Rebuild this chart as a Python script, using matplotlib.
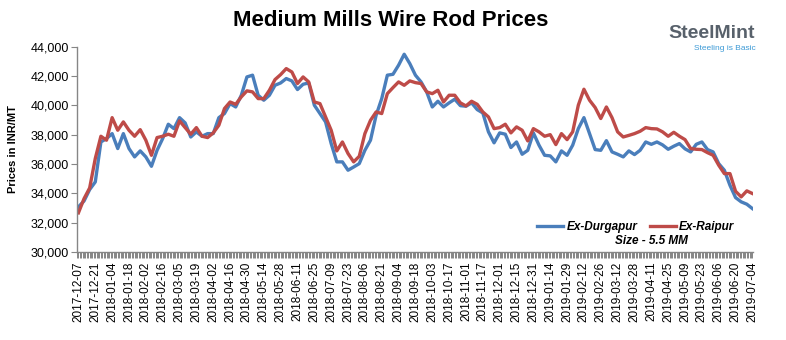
import numpy as np
import matplotlib
matplotlib.use("Agg")
import matplotlib.pyplot as plt
from matplotlib.ticker import FuncFormatter, MultipleLocator
from matplotlib.lines import Line2D

plt.rcParams['font.family'] = ['Liberation Sans', 'DejaVu Sans']

# tick labels (every 3rd point)
date_labels = ["2017-12-07", "2017-12-21", "2018-01-04", "2018-01-18", "2018-02-02",
               "2018-02-16", "2018-03-05", "2018-03-19", "2018-04-02", "2018-04-16",
               "2018-04-30", "2018-05-14", "2018-05-28", "2018-06-11", "2018-06-25",
               "2018-07-09", "2018-07-23", "2018-08-06", "2018-08-21", "2018-09-04",
               "2018-09-18", "2018-10-03", "2018-10-17", "2018-11-01", "2018-11-17",
               "2018-12-01", "2018-12-15", "2018-12-31", "2019-01-14", "2019-01-29",
               "2019-02-12", "2019-02-26", "2019-03-12", "2019-03-28", "2019-04-11",
               "2019-04-25", "2019-05-09", "2019-05-23", "2019-06-06", "2019-06-20",
               "2019-07-04"]

# prices, INR/MT
durgapur = [33080, 33480, 34260, 34780, 37510, 37740, 38080, 37060, 38080, 37060,
            36490, 36900, 36490, 35850, 36940, 37740, 38720, 38420, 39170, 38810,
            37850, 38200, 37900, 38080, 38080, 39170, 39450, 40130, 39900, 40700,
            41950, 42070, 40700, 40360, 40700, 41380, 41540, 41840, 41680, 41090,
            41450, 41540, 40020, 39450, 38880, 37400, 36150, 36150, 35580, 35800,
            36030, 36940, 37630, 39330, 40470, 42070, 42130, 42750, 43500, 42860,
            42070, 41610, 40930, 39900, 40290, 39900, 40180, 40430, 39990, 39950,
            40180, 39720, 39490, 38200, 37450, 38130, 38040, 37130, 37510, 36670,
            36940, 38130, 37290, 36600, 36560, 36150, 36900, 36600, 37290, 38420,
            39170, 38080, 36990, 36940, 37600, 36830, 36670, 36490, 36900, 36650,
            36940, 37510, 37350, 37510, 37310, 37010, 37220, 37400, 37040, 36830,
            37350, 37510, 36990, 36830, 36030, 35580, 34550, 33710, 33420, 33260,
            32960]
raipur = [32670, 33640, 34370, 36380, 37900, 37630, 39170, 38310, 38880, 38310,
          37900, 38350, 37630, 36600, 37810, 37900, 38040, 37900, 38950, 38490,
          38040, 38490, 37900, 37810, 38130, 38650, 39790, 40240, 40080, 40590,
          41000, 40930, 40470, 40470, 41040, 41770, 42110, 42520, 42290, 41500,
          41950, 41610, 40240, 40130, 39220, 38310, 36900, 37510, 36720, 36150,
          36530, 38080, 38990, 39560, 39450, 40810, 41220, 41610, 41380, 41680,
          41560, 41500, 40930, 40810, 41040, 40240, 40700, 40700, 40180, 39970,
          40290, 40080, 39560, 39220, 38420, 38490, 38720, 38130, 38540, 38310,
          37580, 38420, 38200, 37900, 38010, 37330, 38080, 37670, 38200, 40020,
          41110, 40360, 39860, 39110, 39900, 39170, 38200, 37850, 37960, 38080,
          38240, 38490, 38420, 38400, 38200, 37900, 38170, 37900, 37670, 37060,
          37010, 36990, 36780, 36600, 35920, 35350, 35350, 34140, 33760, 34170,
          33990]

blue = '#4A7EBB'
red = '#BE4B48'
grey = '#868686'

fig = plt.figure(figsize=(7.86, 3.40), dpi=100)
ax = fig.add_axes([0.098, 0.259, 0.860, 0.603])

x = np.arange(len(durgapur))
ax.plot(x, durgapur, color=blue, lw=2.4, solid_joinstyle='round')
ax.plot(x, raipur, color=red, lw=2.4, solid_joinstyle='round')

ax.set_xlim(-0.25, len(x) - 0.9)
ax.set_ylim(30000, 44000)

ax.set_yticks(np.arange(30000, 44001, 2000))
ax.yaxis.set_major_formatter(FuncFormatter(lambda v, p: f"{int(v):,}"))
ax.set_xticks(np.arange(0, len(x), 3))
ax.set_xticklabels(date_labels, rotation=90, fontsize=8.5)
ax.xaxis.set_minor_locator(MultipleLocator(0.25))

for s in ['top', 'right']:
    ax.spines[s].set_visible(False)
for s in ['left', 'bottom']:
    ax.spines[s].set_color(grey)
    ax.spines[s].set_linewidth(1.0)
ax.tick_params(axis='y', length=4, color=grey, labelsize=9, pad=2)
ax.tick_params(axis='x', which='both', length=4, width=0.7, color=grey, pad=3)

ax.set_ylabel("Prices in INR/MT", fontsize=8, fontweight='bold', labelpad=9)

fig.text(0.497, 0.94, "Medium Mills Wire Rod Prices", ha='center', va='center',
         fontsize=16, fontweight='bold')

handles = [Line2D([], [], color=blue, lw=2.4), Line2D([], [], color=red, lw=2.4)]
ax.legend(handles, ["Ex-Durgapur", "Ex-Raipur"], ncol=2, frameon=False,
          loc='center', bbox_to_anchor=(0.827, 0.122), handlelength=2.2,
          handletextpad=0.3, columnspacing=1.0,
          prop={'size': 8.5, 'weight': 'bold', 'style': 'italic'})
fig.text(0.829, 0.29, "Size - 5.5 MM", ha='center', va='center',
         fontsize=8.5, fontweight='bold', style='italic')

# logo as text
fig.text(0.906, 0.9, "SteelMint", ha='center', va='center', fontsize=14,
         fontweight='bold', color='#58616b')
fig.text(0.922, 0.858, "Steeling is Basic", ha='center', va='center',
         fontsize=6, color='#3d9ad6')

fig.savefig("out.png", dpi=100)
